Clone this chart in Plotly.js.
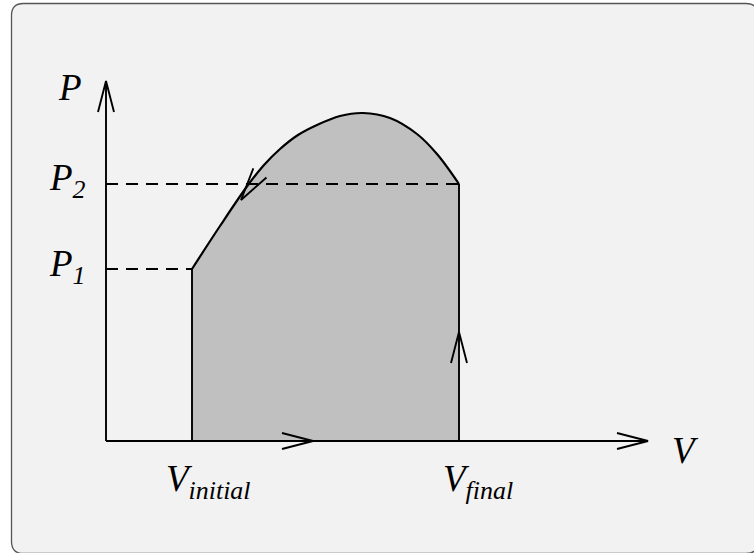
<!DOCTYPE html>
<html>
<head>
<meta charset="utf-8">
<script src="https://cdn.plot.ly/plotly-3.0.1.min.js"></script>
<style>
  html, body { margin: 0; padding: 0; background: #fff; }
  #chart { width: 754px; height: 553px; }
</style>
</head>
<body>
<div id="chart"></div>
<script>
// state values (arbitrary units, origin at the axes corner)
const vInitial = 0.86;
const vFinal = 3.53;
const p1 = 1.72;
const p2 = 2.57;

// the curve from (vInitial, p1) over the top to (vFinal, p2)
const curveV = [0.86, 1.14, 1.42, 1.58, 1.74, 1.92, 2.11, 2.34, 2.57, 2.84, 3.11, 3.31, 3.53];
const curveP = [1.72, 2.15, 2.56, 2.76, 2.92, 3.06, 3.16, 3.25, 3.28, 3.23, 3.07, 2.87, 2.57];

// axis extents
const vAxisEnd = 5.42;
const pAxisEnd = 3.60;

const black = "#000";
const serif = "Liberation Serif, Times New Roman, serif";

function seg(x, y, width, dash) {
  return {
    x, y, mode: "lines", hoverinfo: "skip",
    line: { color: black, width: width || 1.9, dash: dash || "solid" },
  };
}

// open "V" arrowhead: tip at (tx, ty), pointing along (dx, dy)
function head(tx, ty, dx, dy, len) {
  len = len || 0.31;
  const half = 0.08;
  const n = Math.hypot(dx, dy);
  const ux = dx / n, uy = dy / n;
  const bx = tx - ux * len, by = ty - uy * len;
  return seg(
    [bx - uy * half, tx, bx + uy * half],
    [by + ux * half, ty, by - ux * half],
    1.9
  );
}

// grey area under the curve, down to the V axis
const shaded = {
  x: curveV, y: curveP, mode: "lines", hoverinfo: "skip",
  fill: "tozeroy",
  fillcolor: "#c0c0c0",
  line: { color: "rgba(0,0,0,0)", width: 0.5, shape: "spline", smoothing: 1 },
};

const curve = {
  x: curveV, y: curveP, mode: "lines", hoverinfo: "skip",
  line: { color: black, width: 2.2, shape: "spline", smoothing: 1 },
};

const traces = [
  shaded,
  seg([0, vFinal], [p2, p2], 2, "12px,8px"),
  seg([0, vInitial], [p1, p1], 2, "12px,8px"),
  seg([vInitial, vInitial], [0, p1]),
  seg([vFinal, vFinal], [0, p2]),
  curve,
  seg([0, 0], [0, pAxisEnd]),
  seg([0, vAxisEnd], [0, 0]),
  head(0, pAxisEnd, 0, 1),
  head(vAxisEnd, 0, 1, 0),
  head(2.07, 0, 1, 0),
  head(vFinal, 1.09, 0, 1),
  head(1.35, 2.41, -0.185, -0.265, 0.33),
];

function label(text, x, y) {
  return {
    text, x, y, xref: "x", yref: "y",
    xanchor: "left", yanchor: "middle",
    showarrow: false,
    font: { family: serif, size: 37, color: black, style: "italic" },
  };
}

const annotations = [
  label("P", -0.50, 3.54),
  label("P<sub>2</sub>", -0.59, 2.61),
  label("P<sub>1</sub>", -0.59, 1.75),
  label("V", 5.64, -0.09),
  label("V<sub>initial</sub>", 0.58, -0.40),
  label("V<sub>final</sub>", 3.35, -0.40),
];

// rounded frame behind the drawing
const L = -0.945, T = 4.375, R = 6.52, B = -1.125, r = 0.12;
const frame = {
  type: "path", xref: "x", yref: "y", layer: "below",
  path: `M ${L},${B + r} L ${L},${T - r} Q ${L},${T} ${L + r},${T} L ${R - r},${T} ` +
        `Q ${R},${T} ${R},${T - r} L ${R},${B + r} Q ${R},${B} ${R - r},${B} ` +
        `L ${L + r},${B} Q ${L},${B} ${L},${B + r} Z`,
  fillcolor: "#f2f2f2",
  line: { color: "#555", width: 1.3 },
};

const layout = {
  width: 754,
  height: 553,
  margin: { l: 0, r: 0, t: 0, b: 0 },
  paper_bgcolor: "#fff",
  plot_bgcolor: "rgba(0,0,0,0)",
  showlegend: false,
  xaxis: { range: [-1.06, 6.48], visible: false, fixedrange: true },
  yaxis: { range: [-1.12, 4.41], visible: false, fixedrange: true },
  shapes: [frame],
  annotations,
};

Plotly.newPlot("chart", traces, layout, { displayModeBar: false, staticPlot: true });
</script>
</body>
</html>
